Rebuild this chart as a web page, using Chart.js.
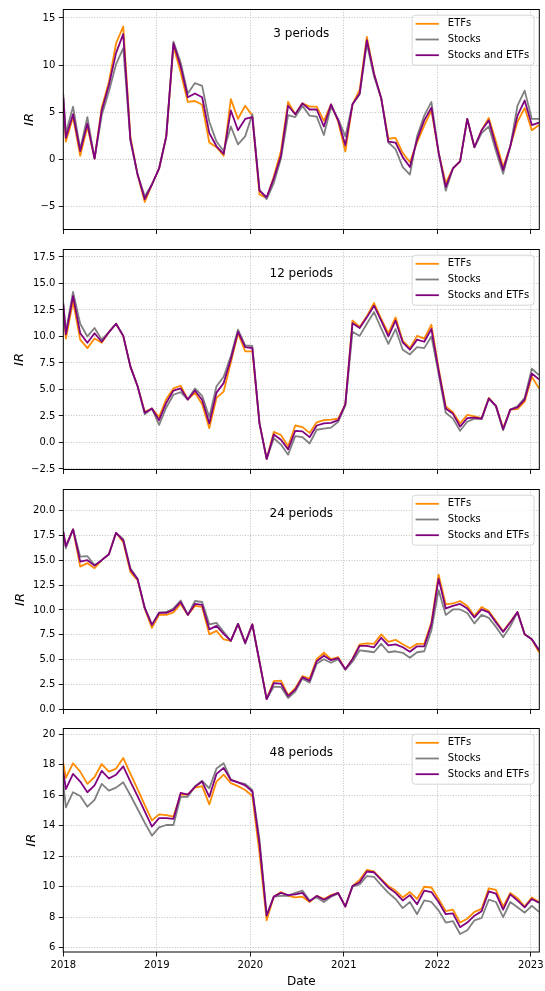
<!DOCTYPE html>
<html>
<head>
<meta charset="utf-8">
<title>IR by period</title>
<script src="https://cdn.jsdelivr.net/npm/chart.js@4.4.1/dist/chart.umd.min.js"></script>
<style>
    html, body { margin: 0; padding: 0; background: #fff; }
    #wrap { position: relative; width: 545px; height: 991px; overflow: hidden; }
    .panel { position: absolute; left: 0; width: 545px; }
</style>
</head>
<body>
<div id="wrap"></div>
<script>
/* ============================================
   IR over time — four rolling windows
   ============================================ */

// Time axis: first sample on Jan 1, then every 4 weeks from Jan 11
const FIRST_DATE = '2018-01-01';
const STEP_START = '2018-01-11';
const STEP_DAYS = 28;
const STEP_COUNT = 67;
const yearTicks = [2018, 2019, 2020, 2021, 2022, 2023];

const seriesLabels = ['ETFs', 'Stocks', 'Stocks and ETFs'];
const seriesColors = ['#ff8c00', '#808080', '#800080'];
const panelTitles = ['3 periods', '12 periods', '24 periods', '48 periods'];

// 3 periods
const etf3 = [5.9, 1.9, 4.5, 0.4, 3.5, 0.1, 5.5, 8.2, 12.3, 14.1, 2.4, -1.6, -4.5, -2.65, -0.95, 2.45, 12.0, 9.25, 6.1, 6.2, 5.8, 1.8, 1.3, 0.4, 6.4, 4.3, 5.7, 4.65, -3.7, -4.1, -1.8, 0.9, 6.1, 4.8, 5.95, 5.6, 5.6, 4.1, 5.85, 4.0, 0.85, 5.85, 7.4, 13.0, 9.1, 6.5, 2.2, 2.3, 0.7, -0.3, 1.8, 3.6, 5.2, 0.75, -2.5, -0.95, -0.2, 4.3, 1.3, 3.1, 4.4, 1.9, -0.8, 1.4, 4.0, 5.45, 3.1, 3.65];
const stocks3 = [6.9, 2.8, 5.6, 1.1, 4.5, 0.1, 4.7, 7.2, 10.1, 11.8, 2.0, -1.6, -3.9, -2.65, -0.95, 2.45, 12.5, 10.3, 7.0, 8.1, 7.8, 4.0, 1.9, 0.9, 3.5, 1.6, 2.45, 4.8, -3.2, -4.2, -2.5, 0.1, 4.7, 4.5, 5.7, 4.65, 4.55, 2.6, 5.6, 4.3, 2.45, 5.85, 6.9, 12.3, 8.8, 6.5, 1.8, 1.1, -0.8, -1.6, 2.45, 4.65, 6.1, 0.75, -3.3, -0.95, -0.2, 4.3, 1.3, 2.8, 3.5, 0.9, -1.5, 1.4, 5.7, 7.3, 4.3, 4.3];
const both3 = [6.5, 2.3, 4.8, 0.9, 3.8, 0.1, 5.2, 7.9, 11.3, 13.3, 2.1, -1.6, -4.2, -2.65, -0.95, 2.45, 12.3, 9.9, 6.6, 7.0, 6.6, 2.8, 1.4, 0.6, 5.2, 3.1, 4.3, 4.5, -3.3, -4.0, -2.0, 0.4, 5.7, 4.8, 5.95, 5.3, 5.3, 3.5, 5.85, 4.15, 1.5, 5.85, 7.0, 12.65, 9.1, 6.5, 1.9, 1.8, 0.25, -0.8, 2.1, 4.15, 5.5, 0.75, -2.9, -0.95, -0.2, 4.3, 1.3, 3.1, 4.15, 1.4, -1.1, 1.4, 4.65, 6.25, 3.65, 3.9];

// 12 periods
const etf12 = [12.6, 9.8, 13.3, 9.7, 8.9, 9.8, 9.4, 10.4, 11.2, 10.05, 7.15, 5.3, 2.9, 3.2, 2.4, 4.1, 5.1, 5.35, 4.05, 4.7, 3.6, 1.35, 4.2, 4.8, 7.55, 10.3, 8.6, 8.6, 1.8, -1.55, 1.0, 0.7, -0.35, 1.6, 1.45, 0.9, 1.9, 2.1, 2.15, 2.25, 3.6, 11.5, 10.9, 11.9, 13.15, 11.65, 10.3, 11.8, 9.6, 8.9, 10.05, 9.8, 11.1, 7.0, 3.4, 2.85, 1.8, 2.6, 2.45, 2.3, 4.2, 3.45, 1.35, 3.1, 3.15, 3.85, 6.2, 5.1];
const stocks12 = [13.2, 10.4, 14.2, 11.2, 10.0, 10.8, 9.7, 10.4, 11.2, 10.05, 7.15, 5.3, 2.65, 3.2, 1.65, 3.3, 4.5, 4.75, 4.05, 5.1, 4.4, 2.4, 5.3, 6.2, 8.15, 10.65, 9.15, 9.1, 1.8, -1.55, 0.4, -0.2, -1.15, 0.6, 0.5, -0.1, 1.2, 1.3, 1.4, 1.95, 3.5, 10.45, 10.05, 11.2, 12.3, 10.75, 9.3, 10.7, 8.75, 8.3, 9.0, 8.9, 10.0, 6.5, 2.8, 2.25, 1.1, 1.95, 2.25, 2.2, 4.1, 3.4, 1.15, 3.1, 3.4, 4.2, 6.95, 6.35];
const both12 = [13.0, 10.2, 13.8, 10.3, 9.4, 10.3, 9.5, 10.4, 11.2, 10.05, 7.15, 5.3, 2.8, 3.2, 2.1, 3.75, 4.9, 5.1, 4.05, 4.9, 4.0, 1.8, 4.7, 5.6, 7.85, 10.45, 9.0, 8.9, 1.8, -1.55, 0.75, 0.25, -0.65, 1.1, 1.05, 0.5, 1.6, 1.8, 1.85, 2.1, 3.6, 11.25, 10.8, 11.8, 12.9, 11.5, 10.0, 11.5, 9.45, 8.75, 9.7, 9.5, 10.7, 6.8, 3.2, 2.7, 1.5, 2.3, 2.35, 2.25, 4.15, 3.45, 1.25, 3.1, 3.3, 4.05, 6.5, 5.95];

// 24 periods
const etf24 = [17.6, 16.4, 18.1, 14.35, 14.7, 14.2, 15.0, 15.6, 17.75, 16.8, 13.8, 13.0, 10.1, 8.2, 9.5, 9.5, 9.75, 10.6, 9.5, 10.4, 10.3, 7.55, 7.9, 7.05, 6.9, 8.6, 6.7, 8.55, 4.8, 1.05, 2.85, 2.9, 1.45, 2.15, 3.35, 3.1, 5.05, 5.7, 5.05, 5.25, 4.05, 5.1, 6.55, 6.65, 6.6, 7.55, 6.8, 7.0, 6.55, 6.15, 6.6, 6.6, 8.75, 13.55, 10.55, 10.65, 10.9, 10.4, 9.4, 10.3, 9.9, 8.9, 7.85, 8.8, 9.8, 7.55, 7.05, 5.75];
const stocks24 = [17.8, 16.2, 18.1, 15.35, 15.4, 14.5, 15.0, 15.6, 17.75, 17.1, 14.2, 13.1, 10.2, 8.5, 9.75, 9.8, 10.15, 10.95, 9.5, 10.9, 10.8, 8.55, 8.7, 7.8, 6.9, 8.6, 6.6, 8.55, 4.8, 1.05, 2.3, 2.25, 1.15, 1.8, 3.1, 2.7, 4.6, 5.05, 4.7, 5.05, 4.0, 4.8, 5.95, 5.85, 5.75, 6.6, 5.75, 5.85, 5.7, 5.2, 5.75, 5.85, 7.95, 12.0, 9.5, 10.05, 10.05, 9.7, 8.65, 9.5, 9.2, 8.3, 7.25, 8.35, 9.75, 7.55, 7.05, 6.0];
const both24 = [17.9, 16.4, 18.1, 14.85, 15.0, 14.45, 15.0, 15.6, 17.75, 17.0, 14.05, 13.1, 10.2, 8.5, 9.7, 9.7, 10.0, 10.8, 9.5, 10.6, 10.5, 8.05, 8.4, 7.6, 6.9, 8.6, 6.7, 8.55, 4.8, 1.05, 2.65, 2.6, 1.35, 2.0, 3.25, 2.9, 4.85, 5.4, 4.95, 5.15, 4.05, 5.05, 6.4, 6.4, 6.25, 7.2, 6.45, 6.55, 6.25, 5.8, 6.35, 6.35, 8.55, 13.15, 10.15, 10.4, 10.6, 10.15, 9.25, 10.05, 9.75, 8.75, 7.8, 8.75, 9.8, 7.55, 7.05, 5.95];

// 48 periods
const etf48 = [18.1, 17.15, 18.1, 17.55, 16.75, 17.2, 18.05, 17.55, 17.75, 18.45, 17.4, 16.4, 15.35, 14.35, 14.75, 14.7, 14.6, 16.05, 16.05, 16.5, 16.6, 15.4, 16.9, 17.35, 16.8, 16.6, 16.35, 15.95, 12.2, 7.8, 9.35, 9.65, 9.4, 9.3, 9.35, 9.0, 9.4, 9.2, 9.45, 9.6, 8.7, 10.05, 10.45, 11.1, 11.0, 10.5, 10.05, 9.75, 9.3, 9.65, 9.2, 10.0, 9.95, 9.2, 8.4, 8.5, 7.65, 7.9, 8.35, 8.55, 9.9, 9.8, 8.7, 9.6, 9.25, 8.7, 9.3, 9.0];
const stocks48 = [16.8, 15.2, 16.2, 15.95, 15.25, 15.7, 16.75, 16.3, 16.5, 16.85, 16.0, 15.1, 14.2, 13.35, 13.9, 14.05, 14.05, 15.9, 15.9, 16.6, 16.95, 16.45, 17.75, 18.1, 17.05, 16.85, 16.75, 16.35, 13.1, 8.15, 9.35, 9.4, 9.4, 9.6, 9.75, 9.1, 9.3, 9.0, 9.35, 9.55, 8.7, 10.0, 10.15, 10.7, 10.65, 10.1, 9.6, 9.2, 8.6, 9.0, 8.2, 9.1, 9.0, 8.45, 7.65, 7.75, 6.9, 7.15, 7.8, 7.95, 9.15, 9.0, 8.0, 9.0, 8.65, 8.3, 8.75, 8.35];
const both48 = [17.55, 16.4, 17.4, 16.9, 16.2, 16.65, 17.6, 17.1, 17.35, 17.9, 16.9, 15.95, 14.95, 13.95, 14.5, 14.5, 14.45, 16.15, 16.05, 16.55, 16.9, 15.9, 17.4, 17.8, 17.0, 16.85, 16.65, 16.25, 12.8, 8.1, 9.35, 9.6, 9.45, 9.5, 9.6, 9.05, 9.4, 9.15, 9.4, 9.6, 8.7, 10.05, 10.3, 11.0, 10.95, 10.45, 9.95, 9.6, 9.1, 9.45, 8.85, 9.75, 9.65, 9.0, 8.2, 8.25, 7.35, 7.65, 8.1, 8.4, 9.7, 9.55, 8.5, 9.5, 9.1, 8.65, 9.2, 8.95];

// Tick labels per panel
const yTicks3 = [-5, 0, 5, 10, 15];
const yTicks12 = [-2.5, 0, 2.5, 5, 7.5, 10, 12.5, 15, 17.5];
const yTicks24 = [0, 2.5, 5, 7.5, 10, 12.5, 15, 17.5, 20];
const yTicks48 = [6, 8, 10, 12, 14, 16, 18, 20];

// Layout (pixels) and axis ranges
const FONT = '"DejaVu Sans", sans-serif';
const AREA_LEFT = 63.3;
const AREA_RIGHT = 539.3;
const PAD_TOP = 5;
const PLOT_H = 228;
const X_MIN = 2018;
const X_MAX = 2023.091;

const PANELS = [
    { top: 5,     yMin: -7.42, yMax: 15.9,  ticks: yTicks3,  decimals: 0, labelX: 30,   series: [etf3, stocks3, both3] },
    { top: 244.7, yMin: -2.55, yMax: 18.2,  ticks: yTicks12, decimals: 1, labelX: 20,   series: [etf12, stocks12, both12] },
    { top: 484.5, yMin: 0,     yMax: 22.1,  ticks: yTicks24, decimals: 1, labelX: 20.5, series: [etf24, stocks24, both24] },
    { top: 724,   yMin: 5.72,  yMax: 20.38, ticks: yTicks48, decimals: 0, labelX: 31.5, series: [etf48, stocks48, both48] }
];

function decimalYear(iso) {
    const d = new Date(iso + 'T00:00:00Z');
    const y = d.getUTCFullYear();
    const a = Date.UTC(y, 0, 1), b = Date.UTC(y + 1, 0, 1);
    return y + (d.getTime() - a) / (b - a);
}

const dates = [FIRST_DATE];
const stepStart = new Date(STEP_START + 'T00:00:00Z');
for (let k = 0; k < STEP_COUNT; k++) {
    const d = new Date(stepStart.getTime() + k * STEP_DAYS * 86400000);
    dates.push(d.toISOString().slice(0, 10));
}
const xs = dates.map(decimalYear);

const fmt = (v, dec) => (v < 0 ? '\u2212' : '') + Math.abs(v).toFixed(dec);

// Black frame round the plot area (all four spines)
const framePlugin = {
    id: 'frame',
    afterDatasetsDraw(chart) {
        const { ctx, chartArea: a } = chart;
        ctx.save();
        ctx.strokeStyle = '#000';
        ctx.lineWidth = 1;
        ctx.setLineDash([]);
        ctx.strokeRect(a.left, a.top, a.right - a.left, a.bottom - a.top);
        ctx.restore();
    }
};

function roundRect(ctx, x, y, w, h, r) {
    ctx.beginPath();
    ctx.moveTo(x + r, y);
    ctx.arcTo(x + w, y, x + w, y + h, r);
    ctx.arcTo(x + w, y + h, x, y + h, r);
    ctx.arcTo(x, y + h, x, y, r);
    ctx.arcTo(x, y, x + w, y, r);
    ctx.closePath();
}

// Panel caption and the in-axes legend box
const panelTextPlugin = {
    id: 'panelText',
    afterDraw(chart, args, opts) {
        const { ctx, chartArea: a } = chart;
        ctx.save();
        ctx.fillStyle = '#000';
        ctx.font = '12px ' + FONT;
        ctx.textAlign = 'center';
        ctx.textBaseline = 'middle';
        ctx.fillText(opts.title, (a.left + a.right) / 2, a.top + 24);

        ctx.font = '10px ' + FONT;
        const textW = Math.max(...seriesLabels.map(s => ctx.measureText(s).width));
        const w = 35.7 + textW + 4.7, h = 50;
        const x = a.right - 5.3 - w, y = a.top + 5.7;
        roundRect(ctx, x, y, w, h, 3);
        ctx.fillStyle = 'rgba(255,255,255,0.8)';
        ctx.fill();
        ctx.strokeStyle = '#cccccc';
        ctx.lineWidth = 0.8;
        ctx.stroke();

        ctx.textAlign = 'left';
        seriesLabels.forEach((label, i) => {
            const ry = y + 8.6 + i * 15.7;
            ctx.strokeStyle = seriesColors[i];
            ctx.lineWidth = 1.8;
            ctx.beginPath();
            ctx.moveTo(x + 3.4, ry);
            ctx.lineTo(x + 26.7, ry);
            ctx.stroke();
            ctx.fillStyle = '#000';
            ctx.fillText(label, x + 35.7, ry);
        });
        ctx.restore();
    }
};

const wrap = document.getElementById('wrap');

PANELS.forEach((p, i) => {
    const last = i === PANELS.length - 1;
    const canvasTop = p.top - PAD_TOP;
    const height = last ? Math.round(991 - canvasTop) : PAD_TOP + PLOT_H + 6;
    const xAxisH = height - PAD_TOP - PLOT_H;

    const div = document.createElement('div');
    div.className = 'panel';
    div.style.top = canvasTop + 'px';
    div.style.height = height + 'px';
    const canvas = document.createElement('canvas');
    div.appendChild(canvas);
    wrap.appendChild(div);

    const gridOpts = {
        color: '#b0b0b0',
        lineWidth: 0.8,
        tickLength: 4.5,
        tickColor: '#000',
        tickWidth: 0.9
    };

    new Chart(canvas, {
        type: 'line',
        data: {
            datasets: seriesLabels.map((label, s) => ({
                label,
                data: xs.map((x, j) => ({ x, y: p.series[s][j] })),
                borderColor: seriesColors[s],
                backgroundColor: seriesColors[s],
                order: 3 - s
            }))
        },
        options: {
            responsive: true,
            maintainAspectRatio: false,
            animation: false,
            events: [],
            layout: { padding: { top: PAD_TOP, right: 545 - AREA_RIGHT, left: 0, bottom: 0 } },
            elements: {
                point: { radius: 0 },
                line: { borderWidth: 1.8, tension: 0, borderJoinStyle: 'round' }
            },
            plugins: {
                legend: { display: false },
                tooltip: { enabled: false },
                panelText: { title: panelTitles[i] }
            },
            scales: {
                x: {
                    type: 'linear',
                    min: X_MIN,
                    max: X_MAX,
                    afterBuildTicks: s => { s.ticks = yearTicks.map(v => ({ value: v })); },
                    afterFit: s => { s.height = xAxisH; s.paddingLeft = 0; s.paddingRight = 0; },
                    grid: gridOpts,
                    border: { display: false, dash: [1, 1.6] },
                    ticks: {
                        display: last,
                        color: '#000',
                        font: { family: FONT, size: 10 },
                        padding: 3,
                        maxRotation: 0,
                        autoSkip: false,
                        callback: v => String(v)
                    },
                    title: {
                        display: last,
                        text: 'Date',
                        color: '#000',
                        font: { family: FONT, size: 12 },
                        padding: { top: 0, bottom: 2.4 }
                    }
                },
                y: {
                    min: p.yMin,
                    max: p.yMax,
                    afterBuildTicks: s => { s.ticks = p.ticks.map(v => ({ value: v })); },
                    afterFit: s => { s.width = AREA_LEFT; },
                    grid: gridOpts,
                    border: { display: false, dash: [1, 1.6] },
                    ticks: {
                        color: '#000',
                        font: { family: FONT, size: 10 },
                        padding: 3.5,
                        autoSkip: false,
                        callback: v => fmt(v, p.decimals)
                    },
                    title: {
                        display: true,
                        text: 'IR',
                        color: '#000',
                        font: { family: FONT, size: 13, style: 'italic' },
                        padding: { top: p.labelX - 7.8, bottom: 0 }
                    }
                }
            }
        },
        plugins: [framePlugin, panelTextPlugin]
    });
});
</script>
</body>
</html>
